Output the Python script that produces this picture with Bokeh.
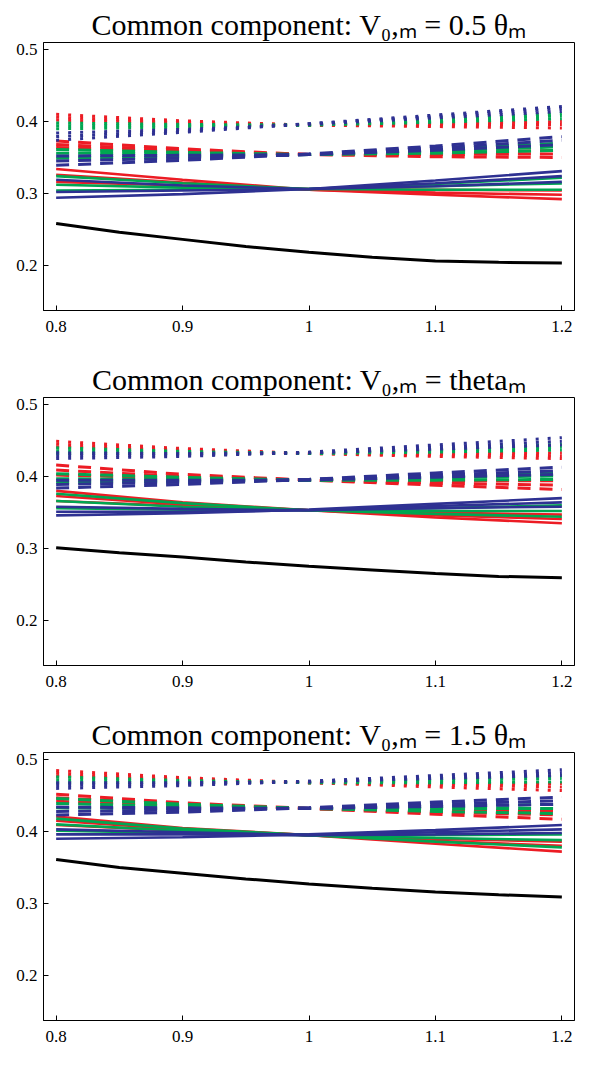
from bokeh.plotting import figure
from bokeh.layouts import column
from bokeh.models import FixedTicker, Range1d
from bokeh.embed import file_html
from bokeh.resources import INLINE

# ---------------- data ----------------
x_vals = [0.8, 0.9, 1.0, 1.1, 1.2]
x_black = [0.8, 0.85, 0.9, 0.95, 1.0, 1.05, 1.1, 1.15, 1.2]
x_ticks = [0.8, 0.9, 1.0, 1.1, 1.2]
x_tick_labels = ["0.8", "0.9", "1", "1.1", "1.2"]
y_ticks = [0.2, 0.3, 0.4, 0.5]
y_tick_labels = ["0.2", "0.3", "0.4", "0.5"]

titles = [
    "Common component: V\u2080,\u2098 = 0.5 \u03b8\u2098",
    "Common component: V\u2080,\u2098 = theta\u2098",
    "Common component: V\u2080,\u2098 = 1.5 \u03b8\u2098",
]

# Panel 1 (0.5 theta)
p1_black = [0.258, 0.246, 0.236, 0.226, 0.218, 0.211, 0.206, 0.204, 0.203]
p1_solid_red = [[0.334, 0.319, 0.305, 0.298, 0.292], [0.326, 0.315, 0.305, 0.301, 0.298], [0.316, 0.311, 0.306, 0.305, 0.304]]
p1_solid_green = [[0.324, 0.314, 0.306, 0.305, 0.305], [0.312, 0.308, 0.306, 0.310, 0.314], [0.304, 0.305, 0.306, 0.313, 0.322]]
p1_solid_blue = [[0.319, 0.311, 0.306, 0.310, 0.316], [0.302, 0.304, 0.306, 0.314, 0.324], [0.294, 0.299, 0.306, 0.318, 0.331]]
p1_dash_red = [[0.373, 0.362, 0.354, 0.351, 0.350], [0.368, 0.360, 0.354, 0.354, 0.355], [0.364, 0.358, 0.354, 0.356, 0.360]]
p1_dash_green = [[0.361, 0.357, 0.354, 0.356, 0.360], [0.356, 0.355, 0.354, 0.359, 0.365], [0.349, 0.351, 0.354, 0.361, 0.370]]
p1_dash_blue = [[0.352, 0.353, 0.354, 0.360, 0.368], [0.345, 0.349, 0.354, 0.363, 0.374], [0.339, 0.346, 0.355, 0.366, 0.379]]
p1_dot_red = [[0.410, 0.401, 0.395, 0.393, 0.391], [0.406, 0.399, 0.395, 0.395, 0.396], [0.402, 0.398, 0.395, 0.397, 0.400]]
p1_dot_green = [[0.398, 0.396, 0.395, 0.399, 0.404], [0.394, 0.394, 0.395, 0.401, 0.408], [0.390, 0.392, 0.396, 0.403, 0.411]]
p1_dot_blue = [[0.384, 0.389, 0.396, 0.405, 0.414], [0.379, 0.387, 0.397, 0.407, 0.418], [0.374, 0.385, 0.397, 0.409, 0.421]]

# Panel 2 (theta)
p2_black = [0.301, 0.294, 0.288, 0.281, 0.275, 0.270, 0.265, 0.261, 0.259]
p2_solid_red = [[0.380, 0.364, 0.353, 0.343, 0.335], [0.373, 0.361, 0.353, 0.346, 0.341], [0.366, 0.359, 0.353, 0.350, 0.347]]
p2_solid_green = [[0.376, 0.363, 0.353, 0.348, 0.344], [0.366, 0.358, 0.353, 0.352, 0.352], [0.356, 0.354, 0.353, 0.356, 0.360]]
p2_solid_blue = [[0.358, 0.355, 0.353, 0.356, 0.358], [0.351, 0.351, 0.353, 0.359, 0.364], [0.346, 0.349, 0.354, 0.362, 0.370]]
p2_dash_red = [[0.416, 0.403, 0.395, 0.388, 0.382], [0.409, 0.400, 0.395, 0.391, 0.388], [0.402, 0.398, 0.395, 0.394, 0.394]]
p2_dash_green = [[0.404, 0.399, 0.395, 0.395, 0.396], [0.397, 0.396, 0.395, 0.398, 0.401], [0.392, 0.393, 0.395, 0.400, 0.405]]
p2_dash_blue = [[0.395, 0.395, 0.395, 0.399, 0.403], [0.389, 0.392, 0.396, 0.402, 0.408], [0.384, 0.389, 0.396, 0.405, 0.413]]
p2_dot_red = [[0.449, 0.439, 0.432, 0.428, 0.425], [0.445, 0.437, 0.432, 0.430, 0.429], [0.441, 0.436, 0.432, 0.432, 0.433]]
p2_dot_green = [[0.440, 0.435, 0.432, 0.434, 0.437], [0.436, 0.434, 0.432, 0.436, 0.441], [0.432, 0.432, 0.433, 0.438, 0.445]]
p2_dot_blue = [[0.433, 0.432, 0.433, 0.438, 0.444], [0.429, 0.430, 0.433, 0.441, 0.449], [0.425, 0.428, 0.434, 0.444, 0.454]]

# Panel 3 (1.5 theta)
p3_black = [0.361, 0.350, 0.342, 0.334, 0.327, 0.321, 0.316, 0.312, 0.309]
p3_solid_red = [[0.421, 0.405, 0.395, 0.383, 0.372], [0.415, 0.403, 0.395, 0.387, 0.380], [0.409, 0.401, 0.395, 0.390, 0.386]]
p3_solid_green = [[0.418, 0.404, 0.395, 0.386, 0.378], [0.410, 0.401, 0.395, 0.391, 0.388], [0.401, 0.398, 0.395, 0.395, 0.396]]
p3_solid_blue = [[0.403, 0.399, 0.395, 0.396, 0.398], [0.396, 0.396, 0.395, 0.399, 0.403], [0.390, 0.392, 0.396, 0.402, 0.409]]
p3_dash_red = [[0.452, 0.440, 0.432, 0.424, 0.417], [0.447, 0.438, 0.432, 0.427, 0.423], [0.442, 0.436, 0.432, 0.430, 0.429]]
p3_dash_green = [[0.446, 0.438, 0.432, 0.428, 0.425], [0.439, 0.435, 0.432, 0.432, 0.432], [0.433, 0.432, 0.432, 0.435, 0.438]]
p3_dash_blue = [[0.434, 0.433, 0.432, 0.435, 0.438], [0.428, 0.430, 0.433, 0.438, 0.443], [0.423, 0.427, 0.433, 0.441, 0.448]]
p3_dot_red = [[0.485, 0.475, 0.468, 0.462, 0.457], [0.481, 0.473, 0.468, 0.465, 0.462], [0.477, 0.472, 0.468, 0.467, 0.467]]
p3_dot_green = [[0.476, 0.471, 0.468, 0.468, 0.469], [0.472, 0.470, 0.468, 0.471, 0.474], [0.468, 0.468, 0.469, 0.473, 0.478]]
p3_dot_blue = [[0.468, 0.468, 0.469, 0.474, 0.478], [0.464, 0.466, 0.470, 0.476, 0.482], [0.460, 0.464, 0.470, 0.478, 0.486]]

# ---------------- styles ----------------
RED = "#EC1C24"
GREEN = "#00A651"
BLUE = "#2E3192"
FONT = "Liberation Serif"


def make_panel(title, black, solid, dashed, dotted):
    p = figure(width=578, height=355,
               x_range=Range1d(0.79, 1.21), y_range=Range1d(0.137, 0.51),
               output_backend="svg", toolbar_location=None,
               min_border_left=43, min_border_right=4,
               min_border_top=42, min_border_bottom=45)
    p.title.text = title
    p.title.text_font = FONT
    p.title.text_font_size = "30px"
    p.title.text_font_style = "normal"
    p.title.align = "center"
    p.title.text_color = "black"
    p.title.standoff = 4
    p.grid.visible = False
    p.outline_line_color = "black"
    p.outline_line_alpha = 1.0
    p.outline_line_width = 1
    p.background_fill_color = "white"
    p.border_fill_color = "white"

    p.xaxis.ticker = FixedTicker(ticks=x_ticks)
    p.xaxis.major_label_overrides = {t: l for t, l in zip(x_ticks, x_tick_labels)}
    p.yaxis.ticker = FixedTicker(ticks=y_ticks)
    p.yaxis.major_label_overrides = {t: l for t, l in zip(y_ticks, y_tick_labels)}
    for ax in p.xaxis + p.yaxis:
        ax.major_tick_in = 5
        ax.major_tick_out = 0
        ax.minor_tick_line_color = None
        ax.axis_line_color = "black"
        ax.major_tick_line_color = "black"
        ax.major_label_text_font = FONT
        ax.major_label_text_font_size = "17px"
        ax.major_label_text_font_style = "normal"
        ax.major_label_text_color = "black"
    p.xaxis.major_label_standoff = 10
    p.yaxis.major_label_standoff = 6

    # solid family
    for colr, group in zip((RED, GREEN, BLUE), solid):
        for ys in group:
            p.line(x_vals, ys, line_color=colr, line_width=2.6)
    # dashed family
    for colr, group in zip((RED, GREEN, BLUE), dashed):
        for ys in group:
            p.line(x_vals, ys, line_color=colr, line_width=3, line_dash="13 9")
    # dotted family
    for colr, group in zip((RED, GREEN, BLUE), dotted):
        for ys in group:
            p.line(x_vals, ys, line_color=colr, line_width=3, line_dash="3 9")
    p.line(x_black, black, line_color="black", line_width=3)
    return p


p1 = make_panel(titles[0], p1_black,
                (p1_solid_red, p1_solid_green, p1_solid_blue),
                (p1_dash_red, p1_dash_green, p1_dash_blue),
                (p1_dot_red, p1_dot_green, p1_dot_blue))
p2 = make_panel(titles[1], p2_black,
                (p2_solid_red, p2_solid_green, p2_solid_blue),
                (p2_dash_red, p2_dash_green, p2_dash_blue),
                (p2_dot_red, p2_dot_green, p2_dot_blue))
p3 = make_panel(titles[2], p3_black,
                (p3_solid_red, p3_solid_green, p3_solid_blue),
                (p3_dash_red, p3_dash_green, p3_dash_blue),
                (p3_dot_red, p3_dot_green, p3_dot_blue))

layout = column(p1, p2, p3, spacing=0)
open("out.html", "w").write(file_html(layout, INLINE))
